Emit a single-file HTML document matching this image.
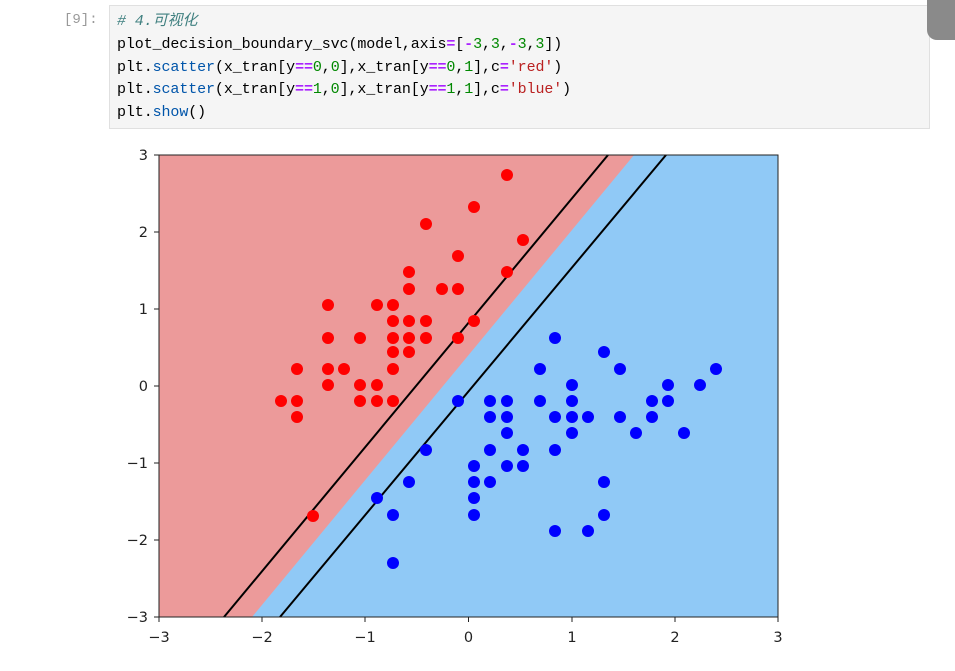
<!DOCTYPE html>
<html><head><meta charset="utf-8"><style>
body{margin:0;width:955px;height:671px;background:#fff;overflow:hidden;position:relative;font-family:"Liberation Mono",monospace}
.cell{position:absolute;left:109px;top:5px;width:819px;height:122px;background:#f5f5f5;border:1px solid #e0e0e0}
.code{position:absolute;left:117px;top:9px;font-size:15px;line-height:22.8px;color:#000;white-space:pre;letter-spacing:-0.1px}
.pr{position:absolute;left:64px;top:12px;font-size:14px;color:#999}
.k{color:#008000}.o{color:#aa22ff;font-weight:bold}.f{color:#0055aa}.s{color:#ba2121}.c{color:#408080;font-style:italic}.n{color:#080}
.gr{position:absolute;left:927px;top:0;width:40px;height:40px;background:#8a8a8a;border-radius:0 0 0 10px}
</style></head><body>
<div class="pr">[9]:</div>
<div class="cell"></div>
<div class="gr"></div>
<div class="code"><span class="c"># 4.<span style="font-family:'Noto Sans CJK SC',sans-serif">可视化</span></span>
plot_decision_boundary_svc(model,axis<span class="o">=</span>[<span class="o">-</span><span class="n">3</span>,<span class="n">3</span>,<span class="o">-</span><span class="n">3</span>,<span class="n">3</span>])
plt<span>.</span><span class="f">scatter</span>(x_tran[y<span class="o">==</span><span class="n">0</span>,<span class="n">0</span>],x_tran[y<span class="o">==</span><span class="n">0</span>,<span class="n">1</span>],c<span class="o">=</span><span class="s">'red'</span>)
plt.<span class="f">scatter</span>(x_tran[y<span class="o">==</span><span class="n">1</span>,<span class="n">0</span>],x_tran[y<span class="o">==</span><span class="n">1</span>,<span class="n">1</span>],c<span class="o">=</span><span class="s">'blue'</span>)
plt.<span class="f">show</span>()</div>
<svg width="955" height="671" style="position:absolute;left:0;top:0" font-family="DejaVu Sans, Liberation Sans, sans-serif" font-size="14.5">
<rect x="159" y="155" width="619" height="462" fill="#90c9f6"/>
<polygon points="159,155 634,155 252,617 159,617" fill="#ec9a9a"/>
<line x1="608" y1="155" x2="224" y2="617" stroke="#000" stroke-width="2"/>
<line x1="666" y1="155" x2="280" y2="617" stroke="#000" stroke-width="2"/>
<g fill="#ff0000">
<circle cx="507" cy="175" r="6"/><circle cx="474" cy="207" r="6"/><circle cx="426" cy="224" r="6"/><circle cx="523" cy="240" r="6"/><circle cx="458" cy="256" r="6"/><circle cx="409" cy="272" r="6"/><circle cx="507" cy="272" r="6"/><circle cx="409" cy="289" r="6"/><circle cx="442" cy="289" r="6"/><circle cx="458" cy="289" r="6"/><circle cx="328" cy="305" r="6"/><circle cx="377" cy="305" r="6"/><circle cx="393" cy="305" r="6"/><circle cx="393" cy="321" r="6"/><circle cx="409" cy="321" r="6"/><circle cx="426" cy="321" r="6"/><circle cx="474" cy="321" r="6"/><circle cx="328" cy="338" r="6"/><circle cx="360" cy="338" r="6"/><circle cx="393" cy="338" r="6"/><circle cx="409" cy="338" r="6"/><circle cx="426" cy="338" r="6"/><circle cx="458" cy="338" r="6"/><circle cx="393" cy="352" r="6"/><circle cx="409" cy="352" r="6"/><circle cx="297" cy="369" r="6"/><circle cx="328" cy="369" r="6"/><circle cx="344" cy="369" r="6"/><circle cx="393" cy="369" r="6"/><circle cx="328" cy="385" r="6"/><circle cx="360" cy="385" r="6"/><circle cx="377" cy="385" r="6"/><circle cx="281" cy="401" r="6"/><circle cx="297" cy="401" r="6"/><circle cx="360" cy="401" r="6"/><circle cx="377" cy="401" r="6"/><circle cx="393" cy="401" r="6"/><circle cx="297" cy="417" r="6"/><circle cx="313" cy="516" r="6"/>
</g>
<g fill="#0000ff">
<circle cx="555" cy="338" r="6"/><circle cx="604" cy="352" r="6"/><circle cx="540" cy="369" r="6"/><circle cx="620" cy="369" r="6"/><circle cx="716" cy="369" r="6"/><circle cx="572" cy="385" r="6"/><circle cx="668" cy="385" r="6"/><circle cx="700" cy="385" r="6"/><circle cx="458" cy="401" r="6"/><circle cx="490" cy="401" r="6"/><circle cx="507" cy="401" r="6"/><circle cx="540" cy="401" r="6"/><circle cx="572" cy="401" r="6"/><circle cx="652" cy="401" r="6"/><circle cx="668" cy="401" r="6"/><circle cx="490" cy="417" r="6"/><circle cx="507" cy="417" r="6"/><circle cx="555" cy="417" r="6"/><circle cx="572" cy="417" r="6"/><circle cx="588" cy="417" r="6"/><circle cx="620" cy="417" r="6"/><circle cx="652" cy="417" r="6"/><circle cx="507" cy="433" r="6"/><circle cx="572" cy="433" r="6"/><circle cx="636" cy="433" r="6"/><circle cx="684" cy="433" r="6"/><circle cx="426" cy="450" r="6"/><circle cx="490" cy="450" r="6"/><circle cx="523" cy="450" r="6"/><circle cx="555" cy="450" r="6"/><circle cx="474" cy="466" r="6"/><circle cx="507" cy="466" r="6"/><circle cx="523" cy="466" r="6"/><circle cx="409" cy="482" r="6"/><circle cx="474" cy="482" r="6"/><circle cx="490" cy="482" r="6"/><circle cx="604" cy="482" r="6"/><circle cx="377" cy="498" r="6"/><circle cx="474" cy="498" r="6"/><circle cx="393" cy="515" r="6"/><circle cx="474" cy="515" r="6"/><circle cx="604" cy="515" r="6"/><circle cx="555" cy="531" r="6"/><circle cx="588" cy="531" r="6"/><circle cx="393" cy="563" r="6"/>
</g>
<rect x="159" y="155" width="619" height="462" fill="none" stroke="#222" stroke-width="1"/>
<g stroke="#222" stroke-width="1">
<line x1="159" y1="617" x2="159" y2="622"/><line x1="262" y1="617" x2="262" y2="622"/><line x1="365" y1="617" x2="365" y2="622"/><line x1="468.5" y1="617" x2="468.5" y2="622"/><line x1="572" y1="617" x2="572" y2="622"/><line x1="675" y1="617" x2="675" y2="622"/><line x1="778" y1="617" x2="778" y2="622"/>
<line x1="154" y1="155" x2="159" y2="155"/><line x1="154" y1="232" x2="159" y2="232"/><line x1="154" y1="309" x2="159" y2="309"/><line x1="154" y1="386" x2="159" y2="386"/><line x1="154" y1="463" x2="159" y2="463"/><line x1="154" y1="540" x2="159" y2="540"/><line x1="154" y1="617" x2="159" y2="617"/>
</g>
<g fill="#222" text-anchor="middle">
<text x="159" y="642">−3</text><text x="262" y="642">−2</text><text x="365" y="642">−1</text><text x="468.5" y="642">0</text><text x="572" y="642">1</text><text x="675" y="642">2</text><text x="778" y="642">3</text>
</g>
<g fill="#222" text-anchor="end">
<text x="148" y="160">3</text><text x="148" y="237">2</text><text x="148" y="314">1</text><text x="148" y="391">0</text><text x="148" y="468">−1</text><text x="148" y="545">−2</text><text x="148" y="622">−3</text>
</g>
</svg>
</body></html>
